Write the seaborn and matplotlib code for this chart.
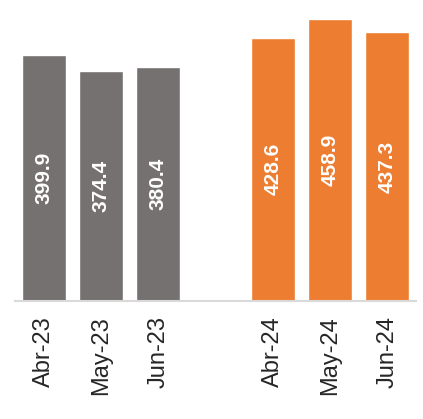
import matplotlib
matplotlib.use("Agg")
import matplotlib.pyplot as plt
import seaborn as sns
import pandas as pd
import numpy as np

categories = ["Abr-23", "May-23", "Jun-23", " ", "Abr-24", "May-24", "Jun-24"]
values = [399.9, 374.4, 380.4, np.nan, 428.6, 458.9, 437.3]
years = ["2023", "2023", "2023", "2023", "2024", "2024", "2024"]
colors = {"2023": "#767171", "2024": "#ED7D31"}

sns.set_theme(style="white")
plt.rcParams["font.family"] = ["Liberation Sans", "DejaVu Sans"]

df = pd.DataFrame({"cat": categories, "val": values, "year": years})

fig = plt.figure(figsize=(4.23, 4.19), dpi=100)
ax = fig.add_axes([15/423, 118/419, 401/423, 301/419])
sns.barplot(data=df, x="cat", y="val", hue="year", palette=colors, order=categories,
            dodge=False, width=0.77, legend=False, ax=ax, saturation=1)

for cont in ax.containers:
    labels = [f"{v:.1f}" if not np.isnan(v) else "" for v in cont.datavalues]
    ax.bar_label(cont, labels=labels, label_type="center", rotation=90,
                 color="white", fontsize=15, fontweight="bold")

ax.set_ylim(0, 490)
ax.set_xlim(-0.5, 6.5)
ax.set_xlabel("")
ax.set_ylabel("")
ax.set_yticks([])
for s in ["top", "right", "left"]:
    ax.spines[s].set_visible(False)
ax.spines["bottom"].set_color("#D9D9D9")
ax.spines["bottom"].set_linewidth(1.5)
ax.tick_params(axis="x", length=0, pad=11, labelsize=17, labelcolor="#262626", rotation=90)

fig.savefig("out.png", dpi=100)
